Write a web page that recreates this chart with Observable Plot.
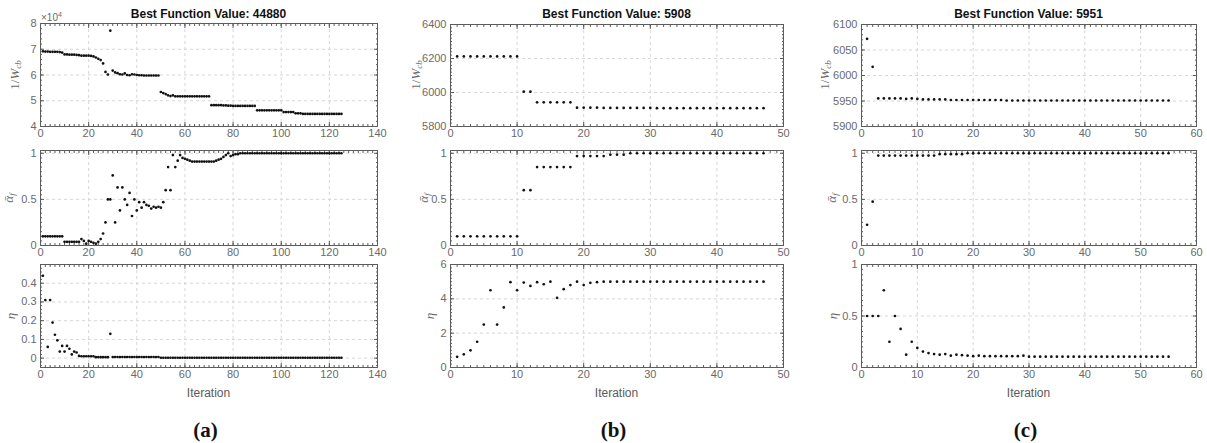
<!DOCTYPE html>
<html><head><meta charset="utf-8">
<script src="https://cdn.jsdelivr.net/npm/d3@7"></script>
<script src="https://cdn.jsdelivr.net/npm/@observablehq/plot@0.6"></script>
<style>
body{margin:0;background:#fff;}
#root{position:relative;width:1207px;height:443px;overflow:hidden;font-family:"Liberation Sans",Arial,sans-serif;background:#fff;}
.abs{position:absolute;}
.title{font-weight:bold;font-size:12px;line-height:14px;color:#111;transform:translateX(-50%);white-space:nowrap;}
.ylab{font-family:"Liberation Serif","DejaVu Serif",serif;font-size:13px;line-height:14px;color:#6a6a6a;transform:translate(-50%,-50%) rotate(-90deg);white-space:nowrap;}
.ylab sub{font-size:9px;vertical-align:-2px;}
.xlab{font-size:12px;line-height:14px;color:#5a5a5a;transform:translateX(-50%);white-space:nowrap;}
.plab{font-family:"Liberation Serif",serif;font-weight:bold;font-size:21px;line-height:24px;color:#111;transform:translateX(-50%);white-space:nowrap;}
.expo{font-size:10px;line-height:12px;color:#6a6a6a;white-space:nowrap;}
.expo sup{font-size:7px;vertical-align:4px;}
</style></head><body><div id="root"></div>
<script>
// ---------- data ----------
const titles = ["Best Function Value: 44880", "Best Function Value: 5908", "Best Function Value: 5951"];
const panelLabels = ["(a)", "(b)", "(c)"];
const xLabel = "Iteration";

// x tick labels
const aXTicks = [0, 20, 40, 60, 80, 100, 120, 140];
const bXTicks = [0, 10, 20, 30, 40, 50];
const cXTicks = [0, 10, 20, 30, 40, 50, 60];

// y tick labels
const aWTicks = [4, 5, 6, 7, 8];            // x 10^4
const bWTicks = [5800, 6000, 6200, 6400];
const cWTicks = [5900, 5950, 6000, 6050, 6100];
const alphaTicks = [0, 0.5, 1];
const aEtaTicks = [0, 0.1, 0.2, 0.3, 0.4];
const bEtaTicks = [0, 2, 4, 6];
const cEtaTicks = [0, 0.5, 1];

// (a) 1/W_cb in units of 10^4, iterations 1..125
const aW = [6.92,6.91,6.91,6.90,6.90,6.90,6.90,6.89,6.87,
 6.80,6.80,6.79,6.79,6.79,6.78,6.77,6.75,6.75,6.75,6.75,6.74,
 6.72,6.68,6.63,6.58,6.45,
 6.12,6.02,7.72,6.17,
 6.10,6.07,6.03,6.02,6.06,6.00,5.99,6.03,6.02,6.00,5.99,5.99,5.98,5.98,5.98,5.98,5.98,5.98,5.98,
 5.34,5.30,5.26,5.21,5.18,5.21,
 5.17,5.17,5.17,5.17,5.17,5.17,5.17,5.17,5.17,5.17,5.17,5.17,5.17,5.17,5.17,
 4.83,4.83,4.83,4.83,4.83,4.82,4.82,4.81,4.81,
 4.80,4.80,4.80,4.80,4.80,4.80,4.80,4.80,4.80,4.80,
 4.63,4.63,4.63,4.63,4.63,4.63,4.63,4.63,4.63,4.63,4.63,
 4.56,4.56,4.56,4.56,4.56,
 4.51,4.51,4.51,
 4.49,4.49,4.49,4.49,4.49,4.49,4.49,4.49,4.49,4.49,4.49,4.49,4.49,4.49,4.49,4.49,4.49];

// (a) alpha_f
const aA = [0.10,0.10,0.10,0.10,0.10,0.10,0.10,0.10,0.10,
 0.04,0.04,0.04,0.04,0.04,0.04,0.04,
 0.07,0.05,0.02,0.05,0.04,0.03,0.02,0.04,0.07,0.13,0.25,0.50,0.50,0.76,0.25,0.63,0.38,0.63,0.50,0.44,0.57,0.32,0.50,0.38,
 0.47,0.41,0.47,0.44,0.43,0.40,0.42,0.41,0.42,0.41,0.47,0.60,0.85,0.60,0.98,0.85,0.92,0.98,0.95,0.94,0.93,0.92,
 0.91,0.91,0.91,0.91,0.91,0.91,0.91,0.91,0.91,0.91,
 0.92,0.93,0.94,0.96,0.98,1.00,0.97,0.98,0.99,0.99,
 1.00,1.00,1.00,1.00,1.00,1.00,1.00,1.00,1.00,1.00,1.00,1.00,1.00,1.00,1.00,1.00,1.00,1.00,1.00,1.00,
 1.00,1.00,1.00,1.00,1.00,1.00,1.00,1.00,1.00,1.00,1.00,1.00,1.00,1.00,1.00,1.00,1.00,1.00,1.00,1.00,
 1.00,1.00,1.00];

// (a) eta
const aE = [0.44,0.31,0.06,0.31,0.19,0.125,0.095,0.035,0.065,0.035,0.065,0.05,0.02,0.035,0.03,0.012,
 0.01,0.01,0.01,0.01,0.01,0.01,
 0.005,0.005,0.005,0.005,0.005,0.005,
 0.13,
 0.006,0.006,0.006,0.006,0.006,0.006,0.006,0.006,0.006,0.006,0.006,0.006,0.006,0.006,0.006,0.006,0.006,0.006,0.006,0.006,
 0.002,0.002,0.002,0.002,0.002,0.002,0.002,0.002,0.002,0.002,0.002,0.002,0.002,0.002,0.002,0.002,0.002,0.002,0.002,0.002,
 0.002,0.002,0.002,0.002,0.002,0.002,0.002,0.002,0.002,0.002,0.002,0.002,0.002,0.002,0.002,0.002,0.002,0.002,0.002,0.002,
 0.002,0.002,0.002,0.002,0.002,0.002,0.002,0.002,0.002,0.002,0.002,0.002,0.002,0.002,0.002,0.002,0.002,0.002,0.002,0.002,
 0.002,0.002,0.002,0.002,0.002,0.002,0.002,0.002,0.002,0.002,0.002,0.002,0.002,0.002,0.002,0.002];

// (b) iterations 1..47
const bW = [6212,6212,6212,6212,6212,6212,6212,6212,6212,6212,
 6005,6005,
 5942,5942,5942,5942,5942,5942,
 5911,5911,5911,5911,
 5909,5909,5909,5909,5909,5909,5909,5909,
 5908,5908,5908,5908,5908,5908,5908,5908,5908,5908,5908,5908,5908,5908,5908,5908,5908];
const bA = [0.10,0.10,0.10,0.10,0.10,0.10,0.10,0.10,0.10,0.10,
 0.60,0.60,
 0.85,0.85,0.85,0.85,0.85,0.85,
 0.97,0.97,0.97,0.97,0.97,
 0.985,0.985,0.985,
 1.00,1.00,1.00,1.00,1.00,1.00,1.00,1.00,1.00,1.00,1.00,1.00,1.00,1.00,1.00,1.00,1.00,1.00,1.00,1.00,1.00];
const bE = [0.62,0.77,1.0,1.5,2.5,4.5,2.5,3.5,4.97,4.5,4.95,4.75,4.97,4.85,5.0,4.06,4.56,4.8,5.0,4.8,4.93,4.97,
 5.0,5.0,5.0,5.0,5.0,5.0,5.0,5.0,5.0,5.0,5.0,5.0,5.0,5.0,5.0,5.0,5.0,5.0,5.0,5.0,5.0,5.0,5.0,5.0,5.0];

// (c) iterations 1..55
const cW = [6072,6017,5955,5955,5955,5955,5955,5954,5955,5954,
 5953,5953,5953,5953,5953,
 5952,5952,5952,5952,5952,5952,5952,5952,5952,5952,
 5951,5951,5951,5951,5951,5951,5951,5951,5951,5951,5951,5951,5951,5951,5951,
 5951,5951,5951,5951,5951,5951,5951,5951,5951,5951,5951,5951,5951,5951,5951];
const cA = [0.225,0.475,
 0.975,0.975,0.975,0.975,0.975,0.975,0.975,0.975,0.975,0.975,0.975,
 0.99,0.99,0.99,0.99,0.99,
 1.0,1.0,1.0,1.0,1.0,1.0,1.0,1.0,1.0,1.0,1.0,1.0,1.0,1.0,1.0,1.0,1.0,1.0,1.0,
 1.0,1.0,1.0,1.0,1.0,1.0,1.0,1.0,1.0,1.0,1.0,1.0,1.0,1.0,1.0,1.0,1.0,1.0];
const cE = [0.5,0.5,0.5,0.75,0.25,0.5,0.375,0.125,0.25,0.19,0.155,0.14,0.13,0.125,0.13,0.115,0.125,0.12,0.115,0.11,0.115,0.11,
 0.11,0.11,0.11,0.11,0.11,0.11,
 0.115,
 0.105,0.105,0.105,0.105,0.105,0.105,0.105,0.105,0.105,0.105,0.105,0.105,0.105,
 0.105,0.105,0.105,0.105,0.105,0.105,0.105,0.105,0.105,0.105,0.105,0.105,0.105];

// ---------- layout ----------
const INK = "#5c5c5c";
const TXT = "#6a6a6a";
const GRID = "#d6d6d6";
const FONT = "'Liberation Sans', Arial, sans-serif";

const rowsGeom = [
  {top: 0, height: 140, mB: 14},
  {top: 140, height: 118, mT: 10, mB: 13},
  {top: 258, height: 142, mT: 6, mB: 33}
];

const panels = [
  {left: 0, width: 402, mL: 40, mR: 25, topMT: 23, xDomain: [0, 140], xTicks: aXTicks, xMinor: 2,
   rows: [
     {values: aW, yDomain: [4, 8], yTicks: aWTicks, yMinor: 0.2, lab: "w", labX: 16},
     {values: aA, yDomain: [0, 1.03], yTicks: alphaTicks, yMinor: 0.05, lab: "a", labX: 10},
     {values: aE, yDomain: [-0.05, 0.5], yTicks: aEtaTicks, yMinor: 0.02, lab: "e", labX: 11}
   ]},
  {left: 402, width: 402, mL: 48, mR: 21, topMT: 24, xDomain: [0, 50], xTicks: bXTicks, xMinor: 1,
   rows: [
     {values: bW, yDomain: [5800, 6400], yTicks: bWTicks, yMinor: 20, lab: "w", labX: 417},
     {values: bA, yDomain: [0, 1.03], yTicks: alphaTicks, yMinor: 0.05, lab: "a", labX: 425},
     {values: bE, yDomain: [0, 6], yTicks: bEtaTicks, yMinor: 0.2, lab: "e", labX: 430}
   ]},
  {left: 804, width: 403, mL: 57, mR: 11, topMT: 24, xDomain: [0, 60], xTicks: cXTicks, xMinor: 1,
   rows: [
     {values: cW, yDomain: [5900, 6100], yTicks: cWTicks, yMinor: 10, lab: "w", labX: 826},
     {values: cA, yDomain: [0, 1.03], yTicks: alphaTicks, yMinor: 0.05, lab: "a", labX: 833},
     {values: cE, yDomain: [0, 1], yTicks: cEtaTicks, yMinor: 0.05, lab: "e", labX: 833}
   ]}
];

const labelHTML = {
  w: '1/<i>W</i><sub><i>cb</i></sub>',
  a: '<i>ᾱ</i><sub><i>f</i></sub>',
  e: '<i>η</i>'
};

function minorTicks(domain, step) {
  const out = [];
  const start = Math.ceil(domain[0] / step - 1e-9);
  for (let k = start; k * step <= domain[1] + 1e-9; k++) out.push(+(k * step).toFixed(6));
  return out;
}

function subplot(p, r, g, mT) {
  const data = r.values.map((v, i) => ({iter: i + 1, value: v}));
  const xm = minorTicks(p.xDomain, p.xMinor);
  const ym = minorTicks(r.yDomain, r.yMinor);
  const yt = r.yTicks.filter(t => t >= r.yDomain[0] - 1e-9 && t <= r.yDomain[1] + 1e-9);
  return Plot.plot({
    width: p.width, height: g.height,
    marginLeft: p.mL, marginRight: p.mR, marginTop: mT, marginBottom: g.mB,
    style: {fontFamily: FONT, fontSize: "11px", background: "transparent", overflow: "visible"},
    x: {domain: p.xDomain},
    y: {domain: r.yDomain},
    marks: [
      Plot.gridX({ticks: p.xTicks, stroke: GRID, strokeOpacity: 1, strokeDasharray: "3,3"}),
      Plot.gridY({ticks: yt, stroke: GRID, strokeOpacity: 1, strokeDasharray: "3,3"}),
      Plot.axisX({anchor: "bottom", ticks: p.xTicks, tickSize: 0, tickPadding: 3, label: null, fill: TXT, tickFormat: d => String(d)}),
      Plot.axisY({anchor: "left", ticks: yt, tickSize: 0, tickPadding: 4, label: null, fill: TXT, tickFormat: d => String(d)}),
      Plot.axisX({anchor: "bottom", ticks: xm, tickSize: -2, fill: "none", stroke: INK, label: null}),
      Plot.axisX({anchor: "top", ticks: xm, tickSize: -2, fill: "none", stroke: INK, label: null}),
      Plot.axisY({anchor: "left", ticks: ym, tickSize: -2, fill: "none", stroke: INK, label: null}),
      Plot.axisY({anchor: "right", ticks: ym, tickSize: -2, fill: "none", stroke: INK, label: null}),
      Plot.axisX({anchor: "bottom", ticks: p.xTicks, tickSize: -4, fill: "none", stroke: INK, label: null}),
      Plot.axisX({anchor: "top", ticks: p.xTicks, tickSize: -4, fill: "none", stroke: INK, label: null}),
      Plot.axisY({anchor: "left", ticks: yt, tickSize: -4, fill: "none", stroke: INK, label: null}),
      Plot.axisY({anchor: "right", ticks: yt, tickSize: -4, fill: "none", stroke: INK, label: null}),
      Plot.dot(data, {x: "iter", y: "value", r: 1.35, fill: "#111", stroke: null}),
      Plot.frame({stroke: INK, strokeWidth: 1})
    ]
  });
}

const root = document.getElementById("root");
function addDiv(cls, html, left, top) {
  const d = document.createElement("div");
  d.className = "abs " + cls;
  d.innerHTML = html;
  d.style.left = left + "px";
  d.style.top = top + "px";
  root.appendChild(d);
  return d;
}

panels.forEach((p, pi) => {
  const frameCenter = p.left + p.mL + (p.width - p.mL - p.mR) / 2;
  p.rows.forEach((r, ri) => {
    const g = rowsGeom[ri];
    const mT = ri === 0 ? p.topMT : g.mT;
    const holder = document.createElement("div");
    holder.className = "abs";
    holder.style.left = p.left + "px";
    holder.style.top = g.top + "px";
    holder.appendChild(subplot(p, r, g, mT));
    root.appendChild(holder);
    const frameMid = g.top + mT + (g.height - mT - g.mB) / 2;
    addDiv("ylab", labelHTML[r.lab], r.labX, frameMid);
  });
  addDiv("title", titles[pi], frameCenter, 7);
  addDiv("xlab", xLabel, frameCenter, 386);
  addDiv("plab", panelLabels[pi], frameCenter - 3, 418);
});
addDiv("expo", "×10<sup>4</sup>", 41, 9);
</script></body></html>
